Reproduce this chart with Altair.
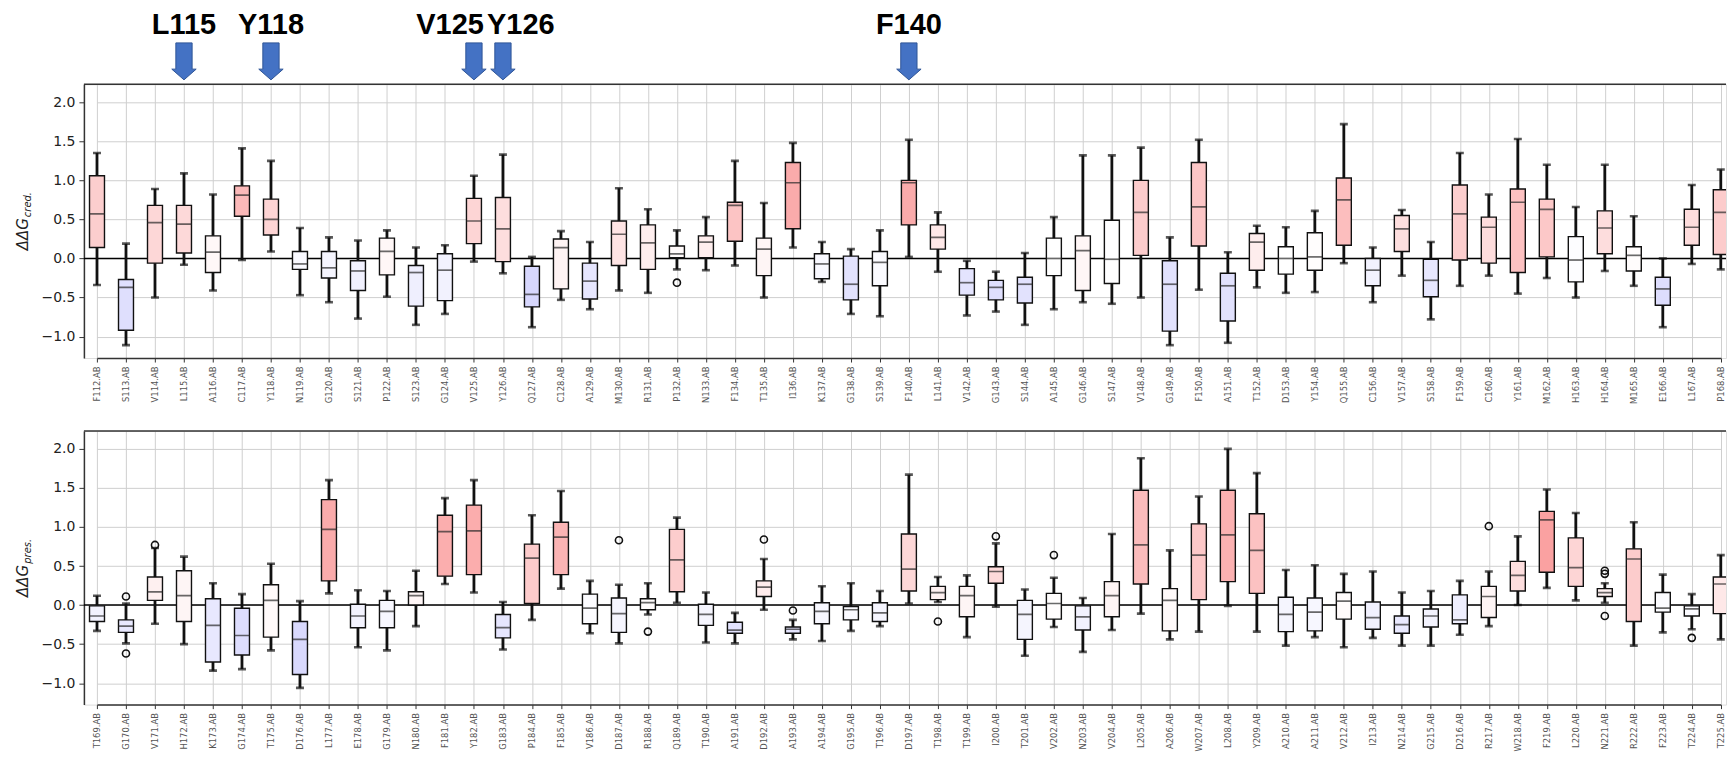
import altair as alt
import pandas as pd

# ---------------- data ----------------
top_names = ["F112","S113","V114","L115","A116","C117","Y118","N119","G120","S121",
             "P122","S123","G124","V125","Y126","Q127","C128","A129","M130","R131",
             "P132","N133","F134","T135","I136","K137","G138","S139","F140","L141",
             "V142","G143","S144","A145","G146","S147","V148","G149","F150","A151",
             "T152","D153","Y154","Q155","C156","V157","S158","F159","C160","Y161",
             "M162","H163","H164","M165","E166","L167","P168"]
top_lo  = [-0.34,-1.11,-0.50,-0.08,-0.41,-0.02, 0.09,-0.47,-0.56,-0.77,
           -0.49,-0.85,-0.71,-0.04,-0.19,-0.88,-0.53,-0.65,-0.41,-0.44,
           -0.14,-0.15,-0.09,-0.50, 0.14,-0.30,-0.71,-0.74, 0.02,-0.17,
           -0.73,-0.68,-0.85,-0.65,-0.56,-0.58,-0.50,-1.11,-0.40,-1.08,
           -0.37,-0.44,-0.43,-0.06,-0.56,-0.22,-0.78,-0.35,-0.22,-0.45,
           -0.25,-0.50,-0.16,-0.35,-0.88,-0.07,-0.14]
top_q1  = [ 0.14,-0.92,-0.06, 0.07,-0.18, 0.54, 0.30,-0.14,-0.25,-0.41,
           -0.21,-0.61,-0.54, 0.19,-0.04,-0.62,-0.39,-0.52,-0.09,-0.14,
            0.01, 0.01, 0.22,-0.22, 0.38,-0.26,-0.53,-0.35, 0.43, 0.12,
           -0.47,-0.53,-0.57,-0.22,-0.41,-0.32, 0.04,-0.93, 0.16,-0.80,
           -0.15,-0.20,-0.15, 0.17,-0.35, 0.09,-0.49,-0.02,-0.06,-0.18,
            0.02,-0.30, 0.06,-0.16,-0.60, 0.17, 0.05]
top_med = [ 0.57,-0.37, 0.46, 0.44, 0.08, 0.81, 0.50,-0.07,-0.12,-0.16,
            0.09,-0.18,-0.15, 0.48, 0.38,-0.46, 0.14,-0.29, 0.31, 0.20,
            0.06, 0.21, 0.68, 0.12, 0.97,-0.07,-0.33,-0.05, 0.97, 0.27,
           -0.31,-0.37,-0.33, 0.00, 0.10,-0.01, 0.59,-0.33, 0.66,-0.35,
            0.21, 0.00, 0.02, 0.75,-0.15, 0.38,-0.28, 0.57, 0.40, 0.72,
            0.63,-0.02, 0.39, 0.04,-0.39, 0.40, 0.59]
top_q3  = [ 1.06,-0.27, 0.68, 0.68, 0.29, 0.93, 0.76, 0.09, 0.09,-0.03,
            0.26,-0.09, 0.06, 0.77, 0.78,-0.10, 0.25,-0.06, 0.48, 0.43,
            0.16, 0.29, 0.72, 0.26, 1.23, 0.06, 0.03, 0.09, 1.00, 0.43,
           -0.13,-0.28,-0.24, 0.26, 0.29, 0.49, 1.00,-0.03, 1.23,-0.19,
            0.32, 0.15, 0.33, 1.03, 0.00, 0.55,-0.01, 0.94, 0.53, 0.89,
            0.76, 0.28, 0.61, 0.15,-0.24, 0.63, 0.88]
top_hi  = [ 1.35, 0.19, 0.89, 1.09, 0.82, 1.41, 1.25, 0.39, 0.27, 0.23,
            0.36, 0.14, 0.17, 1.06, 1.33, 0.02, 0.35, 0.21, 0.90, 0.63,
            0.36, 0.53, 1.25, 0.71, 1.48, 0.21, 0.12, 0.36, 1.52, 0.59,
           -0.03,-0.17, 0.07, 0.53, 1.32, 1.32, 1.42, 0.27, 1.52, 0.08,
            0.42, 0.40, 0.61, 1.72, 0.14, 0.62, 0.21, 1.35, 0.82, 1.53,
            1.20, 0.66, 1.20, 0.54, 0.00, 0.94, 1.14]
top_out_names = ["P132"]
top_out_vals  = [-0.31]

bot_names = ["T169","G170","V171","H172","K173","G174","T175","D176","L177","E178",
             "G179","N180","F181","Y182","G183","P184","F185","V186","D187","R188",
             "Q189","T190","A191","D192","A193","A194","G195","T196","D197","T198",
             "T199","I200","T201","V202","N203","V204","L205","A206","W207","L208",
             "Y209","A210","A211","V212","I213","N214","G215","D216","R217","W218",
             "F219","L220","N221","R222","F223","T224","T225"]
bot_lo  = [-0.33,-0.49,-0.24,-0.50,-0.84,-0.82,-0.58,-1.06, 0.15,-0.54,
           -0.58,-0.27, 0.27, 0.16,-0.57,-0.19, 0.21,-0.36,-0.49,-0.12,
            0.03,-0.48,-0.49,-0.06,-0.44,-0.46,-0.33,-0.27, 0.02, 0.04,
           -0.41,-0.02,-0.65,-0.28,-0.60,-0.32,-0.11,-0.44,-0.34,-0.01,
           -0.34,-0.52,-0.41,-0.54,-0.42,-0.52,-0.52,-0.38,-0.27, 0.00,
            0.22, 0.06, 0.03,-0.52,-0.35,-0.31,-0.44]
bot_q1  = [-0.21,-0.35, 0.06,-0.21,-0.73,-0.64,-0.41,-0.89, 0.31,-0.29,
           -0.29, 0.00, 0.37, 0.39,-0.42, 0.02, 0.39,-0.24,-0.35,-0.06,
            0.17,-0.26,-0.36, 0.11,-0.36,-0.24,-0.19,-0.21, 0.18, 0.07,
           -0.15, 0.28,-0.44,-0.18,-0.32,-0.15, 0.27,-0.33, 0.07, 0.30,
            0.15,-0.34,-0.33,-0.18,-0.31,-0.36,-0.28,-0.24,-0.16, 0.18,
            0.42, 0.24, 0.11,-0.21,-0.09,-0.14,-0.11]
bot_med = [-0.14,-0.27, 0.17, 0.12,-0.26,-0.39, 0.06,-0.44, 0.97,-0.14,
           -0.08, 0.12, 0.94, 0.95,-0.29, 0.60, 0.87,-0.04,-0.11, 0.03,
            0.58,-0.12,-0.32, 0.23,-0.31,-0.08,-0.06,-0.10, 0.46, 0.16,
            0.12, 0.43,-0.12, 0.02,-0.15, 0.12, 0.77, 0.06, 0.64, 0.90,
            0.70,-0.12,-0.09, 0.05,-0.16,-0.25,-0.14,-0.19, 0.11, 0.38,
            1.09, 0.48, 0.16, 0.59,-0.04,-0.05, 0.27]
bot_q3  = [-0.01,-0.19, 0.36, 0.44, 0.08,-0.04, 0.26,-0.21, 1.35, 0.01,
            0.06, 0.17, 1.15, 1.28,-0.12, 0.78, 1.06, 0.14, 0.09, 0.08,
            0.97, 0.01,-0.22, 0.31,-0.28, 0.03,-0.02, 0.03, 0.91, 0.24,
            0.24, 0.49, 0.06, 0.15,-0.01, 0.30, 1.47, 0.21, 1.04, 1.47,
            1.17, 0.10, 0.09, 0.16, 0.04,-0.14,-0.05, 0.13, 0.24, 0.56,
            1.20, 0.86, 0.21, 0.72, 0.16,-0.01, 0.36]
bot_hi  = [ 0.12, 0.02, 0.73, 0.62, 0.28, 0.14, 0.53, 0.05, 1.60, 0.19,
            0.18, 0.44, 1.37, 1.60, 0.04, 1.15, 1.46, 0.31, 0.26, 0.28,
            1.12, 0.16,-0.10, 0.59,-0.19, 0.24, 0.28, 0.18, 1.67, 0.36,
            0.38, 0.79, 0.20, 0.35, 0.09, 0.91, 1.88, 0.70, 1.39, 2.00,
            1.69, 0.45, 0.51, 0.40, 0.43, 0.16, 0.18, 0.31, 0.43, 0.88,
            1.48, 1.18, 0.28, 1.06, 0.39, 0.14, 0.64]
bot_out_names = ["G170","G170","V171","D187","R188","D192","A193","T198","I200",
                 "V202","R217","N221","N221","N221","T224"]
bot_out_vals  = [0.11,-0.62,0.77,0.83,-0.34,0.84,-0.07,-0.21,0.88,
                 0.64,1.01,0.44,0.40,-0.14,-0.42]

arrow_targets = ["L115", "Y118", "V125", "Y126", "F140"]
suffix = ".AB"
top_title = ("ΔΔG", "cred.")
bot_title = ("ΔΔG", "pres.")

# ---------------- styling ----------------
W, H = 1644, 274
X_RANGE = [13.1, 13.1 + 56 * 29.03]
Y_DOMAIN = [-1.275, 2.23]
ARROW = "M-0.44,-1L0.44,-1L0.44,0.42L0.66,0.42L0,1L-0.66,0.42L-0.44,0.42Z"
cscale = alt.Scale(domain=[-1.5, 0, 1.5], range=["#7d7df8", "#ffffff", "#f87d7d"],
                   interpolate="rgb", clamp=True)


def panel(names, lo, q1, med, q3, hi, out_names, out_vals, title, annotate=False):
    labels = [n + suffix for n in names]
    df = pd.DataFrame({"name": labels, "short": names, "lo": lo, "q1": q1,
                       "med": med, "q3": q3, "hi": hi})
    odf = pd.DataFrame({"name": [n + suffix for n in out_names], "val": out_vals})

    xs = alt.Scale(type="point", domain=labels, range=X_RANGE, padding=0)
    xax = alt.Axis(labelAngle=270, labelFontSize=8.4, labelColor="#555",
                   labelFont="DejaVu Sans", labelOverlap=False, tickSize=4,
                   labelPadding=4, grid=True, gridColor="#cfcfcf", gridWidth=1,
                   domainColor="#333", domainWidth=1.5, tickColor="#333")
    ys = alt.Scale(domain=Y_DOMAIN, nice=False, zero=False)
    yax = alt.Axis(values=[-1, -0.5, 0, 0.5, 1, 1.5, 2], format=".1f",
                   labelFontSize=14, labelColor="#222", labelFont="DejaVu Sans",
                   tickSize=5, labelPadding=4, grid=True, gridColor="#cfcfcf",
                   gridWidth=1, domainColor="#333", domainWidth=1.5, tickColor="#333")

    def X():
        return alt.X("name:N", scale=xs, axis=xax, title=None)

    def Y(f):
        return alt.Y(f, scale=ys, axis=yax, title=None)

    base = alt.Chart(df)
    one = pd.DataFrame({"a": [0]})
    frame_top = alt.Chart(one).mark_rule(color="#333", strokeWidth=1.5).encode(
        y=alt.value(0))
    zero = alt.Chart(pd.DataFrame({"z": [0.0]})).mark_rule(
        color="#000", strokeWidth=1.6).encode(y=Y("z:Q"))
    whisk = base.mark_rule(color="#111", strokeWidth=2.8, clip=True).encode(
        x=X(), y=Y("lo:Q"), y2="hi:Q")
    cap_lo = base.mark_tick(color="#111", size=8, thickness=2.6, clip=True).encode(
        x=X(), y=Y("lo:Q"))
    cap_hi = base.mark_tick(color="#111", size=8, thickness=2.6, clip=True).encode(
        x=X(), y=Y("hi:Q"))
    box = base.mark_bar(size=15, stroke="#111", strokeWidth=1.4, clip=True).encode(
        x=X(), y=Y("q1:Q"), y2="q3:Q",
        fill=alt.Fill("med:Q", scale=cscale, legend=None))
    median = base.mark_tick(color="#2a2a2a", size=15, thickness=1.7, clip=True).encode(
        x=X(), y=Y("med:Q"))
    outl = alt.Chart(odf).mark_point(shape="circle", filled=False, size=50,
                                     strokeWidth=1.6, color="#111", opacity=1,
                                     clip=True).encode(x=X(), y=Y("val:Q"))

    t_main = alt.Chart(one).mark_text(
        text=title[0], angle=270, align="right", baseline="middle", fontSize=15,
        fontStyle="italic", font="DejaVu Sans", color="#222").encode(
        x=alt.value(-61), y=alt.value(134))
    t_sub = alt.Chart(one).mark_text(
        text=title[1], angle=270, align="left", baseline="middle", fontSize=10,
        fontStyle="italic", font="DejaVu Sans", color="#222", dx=1, dy=5).encode(
        x=alt.value(-61), y=alt.value(134))

    layers = [zero, whisk, cap_lo, cap_hi, box, median, outl, frame_top, t_main, t_sub]

    if annotate:
        adf = df[df["short"].isin(arrow_targets)]
        arrows = alt.Chart(adf).mark_point(
            shape=ARROW, size=1369, filled=True, fill="#4472C4", stroke="#2F5597",
            strokeWidth=1, opacity=1).encode(x=X(), y=alt.value(-23))
        tstyle = dict(font="Liberation Sans", fontWeight="bold", fontSize=29,
                      baseline="middle", color="#000")
        lab_c = alt.Chart(adf).transform_filter(
            alt.FieldOneOfPredicate(field="short", oneOf=["L115", "Y118", "F140"])
        ).mark_text(align="center", **tstyle).encode(
            x=X(), y=alt.value(-59), text="short:N")
        lab_l = alt.Chart(adf).transform_filter(
            alt.FieldEqualPredicate(field="short", equal="V125")
        ).mark_text(align="right", dx=10, **tstyle).encode(
            x=X(), y=alt.value(-59), text="short:N")
        lab_r = alt.Chart(adf).transform_filter(
            alt.FieldEqualPredicate(field="short", equal="Y126")
        ).mark_text(align="left", dx=-16, **tstyle).encode(
            x=X(), y=alt.value(-59), text="short:N")
        layers += [arrows, lab_c, lab_l, lab_r]

    return alt.layer(*layers).properties(width=W, height=H)


top = panel(top_names, top_lo, top_q1, top_med, top_q3, top_hi,
            top_out_names, top_out_vals, top_title, annotate=True)
bot = panel(bot_names, bot_lo, bot_q1, bot_med, bot_q3, bot_hi,
            bot_out_names, bot_out_vals, bot_title)

chart = alt.vconcat(top, bot, spacing=73, bounds="flush").properties(
    padding={"left": 7, "top": 2, "right": 0, "bottom": 0}
).configure_view(stroke="transparent").configure(background="white")

chart.save("out.html", embed_options={"renderer": "svg", "actions": False})
